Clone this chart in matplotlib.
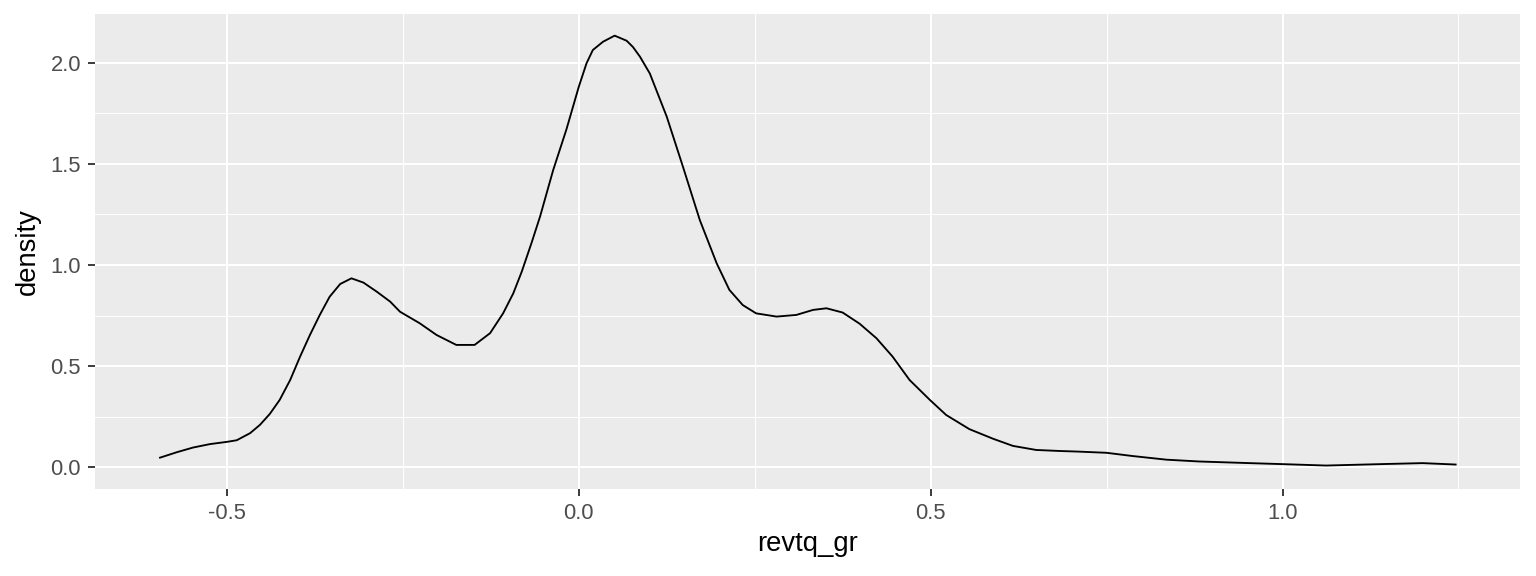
import matplotlib.pyplot as plt
from matplotlib.ticker import MultipleLocator

plt.rcParams['font.family'] = ['Liberation Sans', 'DejaVu Sans']

# density curve
revtq_gr = [-0.595, -0.571, -0.548, -0.524, -0.5, -0.486, -0.467, -0.453, -0.439, -0.425,
            -0.41, -0.396, -0.382, -0.368, -0.354, -0.339, -0.323, -0.306, -0.287, -0.268,
            -0.254, -0.226, -0.202, -0.174, -0.148, -0.126, -0.1075, -0.093, -0.081, -0.067,
            -0.055, -0.0365, -0.0175, 0.0, 0.011, 0.020, 0.0345, 0.051, 0.068, 0.077,
            0.087, 0.101, 0.125, 0.148, 0.172, 0.196, 0.214, 0.233, 0.252, 0.281,
            0.309, 0.333, 0.352, 0.375, 0.399, 0.423, 0.446, 0.47, 0.499, 0.522,
            0.555, 0.589, 0.617, 0.65, 0.683, 0.709, 0.75, 0.787, 0.835, 0.882,
            0.953, 1.0, 1.062, 1.139, 1.199, 1.246]
density = [0.048, 0.075, 0.098, 0.115, 0.126, 0.134, 0.169, 0.21, 0.264, 0.333,
           0.432, 0.547, 0.654, 0.753, 0.843, 0.906, 0.934, 0.913, 0.868, 0.819,
           0.769, 0.712, 0.654, 0.605, 0.605, 0.663, 0.761, 0.86, 0.967, 1.11,
           1.239, 1.467, 1.67, 1.88, 1.996, 2.062, 2.103, 2.133, 2.108, 2.077,
           2.029, 1.946, 1.733, 1.486, 1.222, 1.008, 0.877, 0.802, 0.761, 0.745,
           0.753, 0.778, 0.786, 0.765, 0.71, 0.638, 0.547, 0.432, 0.333, 0.259,
           0.189, 0.141, 0.106, 0.086, 0.081, 0.078, 0.072, 0.056, 0.038, 0.029,
           0.021, 0.016, 0.009, 0.016, 0.021, 0.014]

x_ticks = [-0.5, 0.0, 0.5, 1.0]
y_ticks = [0.0, 0.5, 1.0, 1.5, 2.0]

fig = plt.figure(figsize=(16, 6), dpi=96)
ax = fig.add_axes([0.0618, 0.151, 0.9278, 0.8247])
ax.set_facecolor('#EBEBEB')

ax.plot(revtq_gr, density, color='black', linewidth=1.4, zorder=3)

ax.set_xlim(-0.6875, 1.3375)
ax.set_ylim(-0.107, 2.24)
ax.set_xticks(x_ticks)
ax.set_xticklabels([f"{v:.1f}" for v in x_ticks])
ax.set_yticks(y_ticks)
ax.set_yticklabels([f"{v:.1f}" for v in y_ticks])
ax.xaxis.set_minor_locator(MultipleLocator(0.25))
ax.yaxis.set_minor_locator(MultipleLocator(0.25))

ax.grid(True, which='major', color='white', linewidth=1.5)
ax.grid(True, which='minor', color='white', linewidth=0.75)
ax.set_axisbelow(True)

for s in ax.spines.values():
    s.set_visible(False)

ax.tick_params(which='major', length=5.5, width=1.4, color='#333333',
               labelcolor='#4D4D4D', labelsize=16.5, pad=5)
ax.tick_params(which='minor', length=0)

ax.set_xlabel('revtq_gr', fontsize=20.5, color='black', labelpad=5)
ax.set_ylabel('density', fontsize=20.5, color='black', labelpad=7)

fig.savefig('out.png', dpi=96)
